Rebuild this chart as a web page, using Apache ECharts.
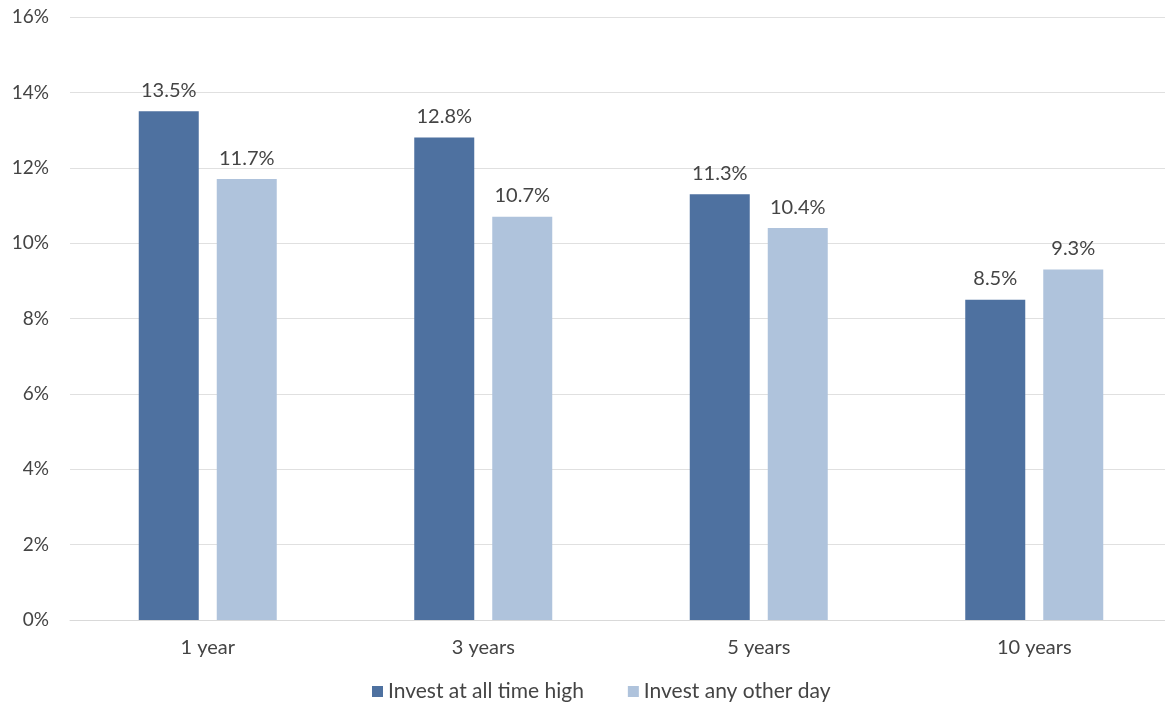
<!DOCTYPE html>
<html><head><meta charset="utf-8">
<script src="https://cdn.jsdelivr.net/npm/echarts@6/dist/echarts.min.js"></script>
<style>html,body{margin:0;padding:0;background:#fff}#c{width:1165px;height:711px}</style>
</head><body><div id="c"></div>
<script>
const categories = ['1 year', '3 years', '5 years', '10 years'];
const seriesNames = ['Invest at all time high', 'Invest any other day'];
const athValues = [13.5, 12.8, 11.3, 8.5];
const otherValues = [11.7, 10.7, 10.4, 9.3];
const colors = ['#4E71A0', '#AFC3DC'];
const font = 'Lato';
const textColor = '#444';
const chart = echarts.init(document.getElementById('c'));
const labelCfg = {show: true, position: 'top', distance: 11, formatter: p => p.value.toFixed(1) + '%', color: textColor, fontSize: 20, fontFamily: font};
chart.setOption({
  animation: false,
  textStyle: {fontFamily: font},
  grid: {left: 70, top: 17, right: -7, bottom: 91, outerBoundsMode: 'none', containLabel: false},
  legend: {bottom: 4, left: 367, itemWidth: 11, itemHeight: 11, itemGap: 44, icon: 'rect',
    textStyle: {color: textColor, fontSize: 21, fontFamily: font}, data: seriesNames},
  xAxis: {type: 'category', data: categories,
    axisLine: {lineStyle: {color: '#d9d9d9'}}, axisTick: {show: false},
    axisLabel: {color: textColor, fontSize: 20, fontFamily: font, margin: 18}},
  yAxis: {type: 'value', min: 0, max: 16, interval: 2,
    axisLabel: {formatter: '{value}%', color: textColor, fontSize: 19, fontFamily: font, margin: 21},
    splitLine: {lineStyle: {color: '#e0e0e0'}}, axisLine: {show: false}, axisTick: {show: false}},
  series: [
    {name: seriesNames[0], type: 'bar', data: athValues, barWidth: 60, barGap: '30%', itemStyle: {color: colors[0]}, label: labelCfg},
    {name: seriesNames[1], type: 'bar', data: otherValues, barWidth: 60, itemStyle: {color: colors[1]}, label: labelCfg}
  ]
});
</script></body></html>
